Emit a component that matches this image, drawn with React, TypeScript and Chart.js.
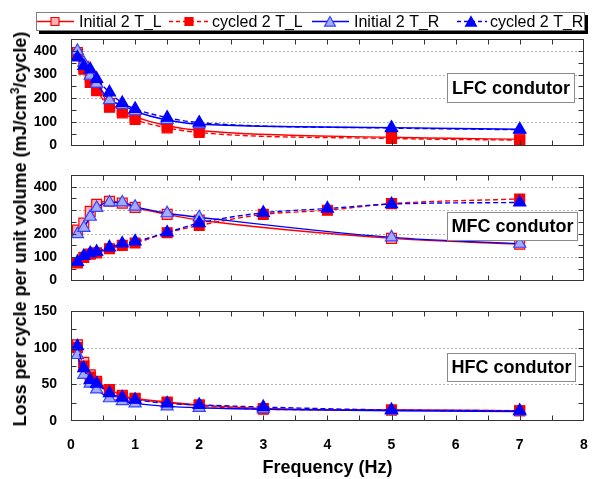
import React, { useEffect, useRef } from 'react';
import { Chart, registerables } from 'chart.js';
Chart.register(...registerables);

// ---------- data ----------
const seriesNames = ['Initial 2 T_L', 'cycled 2 T_L', 'Initial 2 T_R', 'cycled 2 T_R'];
const panelLabels = ['LFC condutor', 'MFC condutor', 'HFC condutor'];
const xTicks = [0, 1, 2, 3, 4, 5, 6, 7, 8];

// LFC
const freqLFC = [0.1, 0.2, 0.3, 0.4, 0.6, 0.8, 1, 1.5, 2, 5, 7];
const lfcInitialL = [393, 335, 288, 252, 178, 150, 122, 84, 64, 35, 27];
const lfcCycledL = [385, 322, 267, 232, 162, 138, 110, 75, 55, 30, 23];
const lfcInitialR = [400, 350, 295, 262, 192, 172, 145, 108, 90, 76, 69];
const lfcCycledR = [372, 336, 322, 282, 225, 180, 155, 118, 97, 74, 67];

// MFC
const freqMFCInitial = [0.1, 0.2, 0.3, 0.4, 0.6, 0.8, 1, 1.5, 2, 5, 7];
const freqMFCCycled = [0.1, 0.2, 0.3, 0.4, 0.6, 0.8, 1, 1.5, 2, 3, 4, 5, 7];
const mfcInitialL = [215, 245, 295, 325, 338, 330, 312, 282, 258, 180, 155];
const mfcCycledL = [75, 99, 113, 118, 136, 150, 160, 204, 235, 282, 300, 328, 348];
const mfcInitialR = [198, 225, 272, 310, 333, 333, 315, 287, 270, 184, 157];
const mfcCycledR = [80, 105, 117, 123, 142, 158, 167, 205, 245, 289, 307, 326, 333];

// HFC
const freqHFC = [0.1, 0.2, 0.3, 0.4, 0.6, 0.8, 1, 1.5, 2, 3, 5, 7];
const hfcInitialL = [104, 80, 63, 54, 43, 35, 31, 26, 22, 17, 15, 14];
const hfcCycledL = [100, 75, 60, 52, 42, 33, 30, 25, 21, 16, 15, 14];
const hfcInitialR = [90, 63, 51, 43, 31, 27, 24, 20, 18, 16, 14, 13];
const hfcCycledR = [102, 72, 56, 51, 38, 32, 29, 24, 22, 19, 15, 14];

// ---------- styles ----------
const RED = '#ff0000';
const BLUE = '#0000ff';
const PINK = '#ffb4b4';
const LIGHTBLUE = '#a4aaff';
const FONT = "'Liberation Sans', Arial, Helvetica, sans-serif";

const seriesStyles = [
  { color: RED, dash: [], pointStyle: 'rect', fill: PINK, stroke: RED, radius: 7, order: 3 },
  { color: RED, dash: [5, 3], pointStyle: 'rect', fill: RED, stroke: RED, radius: 7, order: 2 },
  { color: BLUE, dash: [], pointStyle: 'triangle', fill: LIGHTBLUE, stroke: '#3344ff', radius: 7, order: 1 },
  { color: BLUE, dash: [5, 3], pointStyle: 'triangle', fill: BLUE, stroke: BLUE, radius: 7, order: 0 },
];

function toPoints(xs: number[], ys: number[]) {
  return xs.map((x, i) => ({ x, y: ys[i] }));
}

function makeDatasets(series: { x: number[]; y: number[] }[]) {
  return series.map((s, i) => {
    const st = seriesStyles[i];
    return {
      label: seriesNames[i],
      data: toPoints(s.x, s.y),
      borderColor: st.color,
      borderWidth: 1.4,
      borderDash: st.dash,
      pointStyle: st.pointStyle,
      pointRadius: st.radius,
      pointBackgroundColor: st.fill,
      pointBorderColor: st.stroke,
      pointBorderWidth: 1.2,
      cubicInterpolationMode: 'monotone',
      fill: false,
      order: st.order,
    };
  });
}

function drawMarker(ctx: CanvasRenderingContext2D, style: string, x: number, y: number, r: number, fill: string, stroke: string) {
  ctx.save();
  ctx.setLineDash([]);
  ctx.fillStyle = fill;
  ctx.strokeStyle = stroke;
  ctx.lineWidth = 1.2;
  ctx.beginPath();
  if (style === 'rect') {
    ctx.rect(x - r, y - r, 2 * r, 2 * r);
  } else {
    ctx.moveTo(x, y - r);
    ctx.lineTo(x + 0.9 * r, y + 0.6 * r);
    ctx.lineTo(x - 0.9 * r, y + 0.6 * r);
    ctx.closePath();
  }
  ctx.fill();
  ctx.stroke();
  ctx.restore();
}

const framePlugin = {
  id: 'frame',
  beforeDatasetsDraw(chart: any, _args: any, opts: any) {
    const { ctx, chartArea: a, scales } = chart;
    const y = scales.y;
    ctx.save();
    ctx.strokeStyle = '#b4b4b4';
    ctx.lineWidth = 1;
    ctx.setLineDash([2, 2]);
    for (let v = opts.gridStep; v < y.max - 1e-6; v += opts.gridStep) {
      const py = Math.round(y.getPixelForValue(v)) + 0.5;
      ctx.beginPath();
      ctx.moveTo(a.left, py);
      ctx.lineTo(a.right, py);
      ctx.stroke();
    }
    ctx.restore();
  },
  afterDraw(chart: any, _args: any, opts: any) {
    const { ctx, chartArea: a, scales } = chart;
    const x = scales.x;
    const y = scales.y;
    ctx.save();
    ctx.setLineDash([]);
    ctx.strokeStyle = '#333';
    ctx.lineWidth = 1;
    const L = Math.round(a.left) + 0.5, R = Math.round(a.right) - 0.5;
    const T = Math.round(a.top) + 0.5, B = Math.round(a.bottom) - 0.5;
    ctx.strokeRect(L, T, R - L, B - T);
    const tl = 5;
    ctx.beginPath();
    for (let v = x.min + opts.xMinor; v < x.max - 1e-6; v += opts.xMinor) {
      const px = Math.round(x.getPixelForValue(v)) + 0.5;
      ctx.moveTo(px, B); ctx.lineTo(px, B - tl);
      ctx.moveTo(px, T); ctx.lineTo(px, T + tl);
    }
    for (let v = y.min + opts.yMinor; v < y.max - 1e-6; v += opts.yMinor) {
      const py = Math.round(y.getPixelForValue(v)) + 0.5;
      ctx.moveTo(L, py); ctx.lineTo(L + tl, py);
      ctx.moveTo(R, py); ctx.lineTo(R - tl, py);
    }
    ctx.stroke();

    // annotation box
    const an = opts.annotation;
    const bx = Math.round(a.left + an.dx) + 0.5;
    const by = Math.round(a.top + an.dy) + 0.5;
    ctx.fillStyle = '#fff';
    ctx.fillRect(bx, by, an.w, an.h);
    ctx.strokeStyle = '#8a8a8a';
    ctx.strokeRect(bx, by, an.w, an.h);
    ctx.fillStyle = '#000';
    ctx.font = `bold 18px ${FONT}`;
    ctx.textAlign = 'center';
    ctx.textBaseline = 'middle';
    ctx.fillText(an.text, bx + an.w / 2, by + an.h / 2 + 1);

    // legend
    if (opts.legend) {
      const lx = 36, ly = 12, lw = 549, lh = 19;
      ctx.fillStyle = '#000';
      ctx.fillRect(lx + 3, ly + 3, lw, lh);
      ctx.fillStyle = '#fff';
      ctx.fillRect(lx, ly, lw, lh);
      ctx.strokeStyle = '#808080';
      ctx.strokeRect(lx + 0.5, ly + 0.5, lw - 1, lh - 1);
      const items = [
        { x0: 37, x1: 74, mx: 55, tx: 79 },
        { x0: 169, x1: 208, mx: 189, tx: 212 },
        { x0: 312, x1: 349, mx: 330, tx: 354 },
        { x0: 457, x1: 487, mx: 471, tx: 490 },
      ];
      const cy = 21.5;
      items.forEach((it, i) => {
        const st = seriesStyles[i];
        ctx.save();
        ctx.strokeStyle = st.color;
        ctx.lineWidth = 1.4;
        ctx.setLineDash(st.dash.length ? [4, 3] : []);
        ctx.beginPath();
        ctx.moveTo(it.x0, cy);
        ctx.lineTo(it.x1, cy);
        ctx.stroke();
        ctx.restore();
        drawMarker(ctx, st.pointStyle, it.mx, cy + (st.pointStyle === 'rect' ? 0 : 1), st.pointStyle === 'rect' ? 4 : 6, st.fill, st.stroke);
        ctx.fillStyle = '#000';
        ctx.font = `16px ${FONT}`;
        ctx.textAlign = 'left';
        ctx.textBaseline = 'alphabetic';
        ctx.fillText(seriesNames[i], it.tx, 27);
      });
    }
    ctx.restore();
  },
};

type PanelDef = {
  top: number;
  height: number;
  padTop: number;
  padBottom: number;
  yMax: number;
  yStep: number;
  yMinor: number;
  showX: boolean;
  legend: boolean;
  annotation: { text: string; dx: number; dy: number; w: number; h: number };
  series: { x: number[]; y: number[] }[];
};

const panels: PanelDef[] = [
  {
    top: 0, height: 160, padTop: 39, padBottom: 12, yMax: 450, yStep: 100, yMinor: 50, showX: false, legend: true,
    annotation: { text: panelLabels[0], dx: 376, dy: 34, w: 127, h: 29 },
    series: [
      { x: freqLFC, y: lfcInitialL },
      { x: freqLFC, y: lfcCycledL },
      { x: freqLFC, y: lfcInitialR },
      { x: freqLFC, y: lfcCycledR },
    ],
  },
  {
    top: 160, height: 135, padTop: 15, padBottom: 10, yMax: 450, yStep: 100, yMinor: 50, showX: false, legend: false,
    annotation: { text: panelLabels[1], dx: 376, dy: 37, w: 130, h: 28 },
    series: [
      { x: freqMFCInitial, y: mfcInitialL },
      { x: freqMFCCycled, y: mfcCycledL },
      { x: freqMFCInitial, y: mfcInitialR },
      { x: freqMFCCycled, y: mfcCycledR },
    ],
  },
  {
    top: 295, height: 184, padTop: 16, padBottom: 0, yMax: 150, yStep: 50, yMinor: 25, showX: true, legend: false,
    annotation: { text: panelLabels[2], dx: 376, dy: 42, w: 128, h: 28 },
    series: [
      { x: freqHFC, y: hfcInitialL },
      { x: freqHFC, y: hfcCycledL },
      { x: freqHFC, y: hfcInitialR },
      { x: freqHFC, y: hfcCycledR },
    ],
  },
];

export default function App() {
  const refs = [useRef<HTMLCanvasElement>(null), useRef<HTMLCanvasElement>(null), useRef<HTMLCanvasElement>(null)];

  useEffect(() => {
    document.body.style.margin = '0';
    Chart.defaults.font.family = FONT;
    const charts = panels.map((p, idx) => {
      const canvas = refs[idx].current!;
      return new Chart(canvas, {
        type: 'line',
        data: { datasets: makeDatasets(p.series) as any },
        options: {
          responsive: false,
          animation: false,
          layout: { padding: { top: p.padTop, bottom: p.padBottom, left: 0, right: 4 } },
          plugins: {
            legend: { display: false },
            tooltip: { enabled: false },
            frame: { gridStep: p.yStep, yMinor: p.yMinor, xMinor: 0.5, annotation: p.annotation, legend: p.legend },
          } as any,
          scales: {
            x: {
              type: 'linear',
              min: xTicks[0],
              max: xTicks[xTicks.length - 1],
              display: p.showX,
              grid: { display: false },
              border: { display: false },
              afterBuildTicks: (scale: any) => {
                scale.ticks = xTicks.map((v) => ({ value: v }));
              },
              ticks: {
                stepSize: 1,
                padding: 8,
                color: '#000',
                font: { size: 14, weight: 'bold' },
                maxRotation: 0,
              },
              title: {
                display: true,
                text: 'Frequency (Hz)',
                color: '#000',
                font: { size: 18, weight: 'bold' },
                padding: { top: 0, bottom: 0 },
              },
              afterFit: (scale: any) => {
                scale.height = p.showX ? 58 : 0;
                scale.paddingLeft = 0;
                scale.paddingRight = 0;
              },
            },
            y: {
              min: 0,
              max: p.yMax,
              grid: { display: false },
              border: { display: false },
              ticks: {
                stepSize: p.yStep,
                includeBounds: false,
                padding: 6,
                color: '#000',
                font: { size: 14, weight: 'bold' },
              },
              afterFit: (scale: any) => {
                scale.width = 71;
              },
            },
          },
        } as any,
        plugins: [framePlugin as any],
      });
    });
    return () => charts.forEach((c) => c.destroy());
  }, []);

  return (
    <div style={{ position: 'relative', width: 592, height: 479, overflow: 'hidden', background: '#fff' }}>
      {panels.map((p, i) => (
        <canvas
          key={i}
          ref={refs[i]}
          width={592}
          height={p.height}
          style={{ position: 'absolute', left: 0, top: p.top, width: 592, height: p.height, display: 'block' }}
        />
      ))}
      <div
        style={{
          position: 'absolute',
          left: 20,
          top: 229,
          transform: 'translate(-50%, -50%) rotate(-90deg)',
          whiteSpace: 'nowrap',
          font: `bold 18px ${FONT}`,
          color: '#000',
          lineHeight: '20px',
        }}
      >
        Loss per cycle per unit volume (mJ/cm<sup style={{ fontSize: 12, lineHeight: 0 }}>3</sup>/cycle)
      </div>
    </div>
  );
}
